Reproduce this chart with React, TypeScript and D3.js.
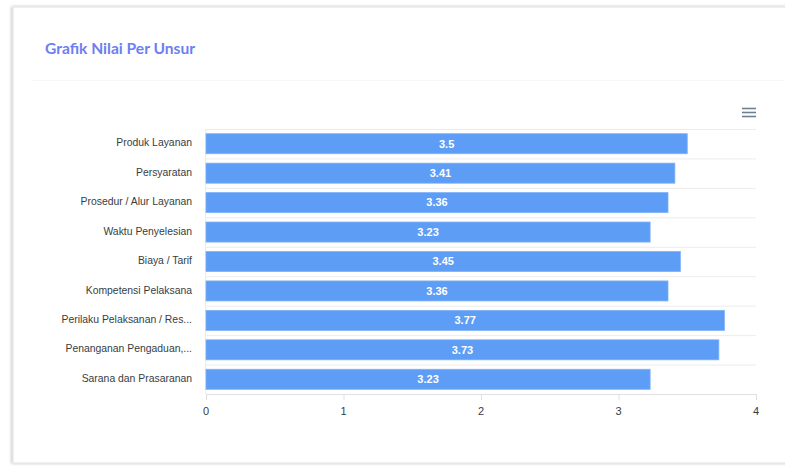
import React from "react";
import * as d3 from "d3";

const categories = [
  "Produk Layanan",
  "Persyaratan",
  "Prosedur / Alur Layanan",
  "Waktu Penyelesian",
  "Biaya / Tarif",
  "Kompetensi Pelaksana",
  "Perilaku Pelaksanan / Res...",
  "Penanganan Pengaduan,...",
  "Sarana dan Prasaranan",
];
const values = [3.5, 3.41, 3.36, 3.23, 3.45, 3.36, 3.77, 3.73, 3.23];
const xTicks = [0, 1, 2, 3, 4];
const title = "Grafik Nilai Per Unsur";

export default function App() {
  const W = 785;
  const H = 466;
  const x = d3.scaleLinear().domain([0, 4]).range([206, 756]);
  const y = d3
    .scaleBand<string>()
    .domain(categories)
    .range([129, 394])
    .paddingInner(0.32)
    .paddingOuter(0.16);
  const step = y.step();
  const font = "'Liberation Sans', Arial, Helvetica, sans-serif";
  return (
    <svg
      width={W}
      height={H}
      style={{ position: "absolute", left: 0, top: 0 }}
    >
      <defs>
        <filter id="sh" x="-5%" y="-5%" width="110%" height="110%">
          <feDropShadow dx="-1" dy="0" stdDeviation="1.5" floodColor="#000" floodOpacity="0.25" />
        </filter>
      </defs>
      <rect x={0} y={0} width={W} height={H} fill="#ffffff" />
      <rect
        x={13}
        y={7}
        width={820}
        height={456}
        fill="#ffffff"
        stroke="#e2e2e2"
        strokeWidth={1}
        filter="url(#sh)"
      />
      <text
        x={45}
        y={53.5}
        fill="#6c7ef2"
        fontFamily="Lato, 'Open Sans', sans-serif"
        fontWeight={700}
        fontSize={15.6}
      >
        {title}
      </text>
      <line x1={32} x2={785} y1={80.5} y2={80.5} stroke="#f8f8f8" strokeWidth={1} />

      {/* hamburger menu */}
      {[108.5, 112.5, 116.5].map((yy) => (
        <line key={yy} x1={742} x2={756} y1={yy} y2={yy} stroke="#6e8192" strokeWidth={1.6} />
      ))}

      {/* grid */}
      {categories.map((c, i) => (
        <line
          key={"g" + i}
          x1={206}
          x2={756}
          y1={129 + i * step + 0.5}
          y2={129 + i * step + 0.5}
          stroke="#ececec"
          strokeWidth={1}
        />
      ))}
      <line x1={205.5} x2={205.5} y1={129} y2={394} stroke="#ececec" strokeWidth={1} />

      {/* bars */}
      {categories.map((c, i) => (
        <rect
          key={"b" + i}
          x={x(0)}
          y={y(c)}
          width={x(values[i]) - x(0)}
          height={y.bandwidth()}
          fill="#5d9df6"
          stroke="#7db1f8"
          strokeWidth={0.8}
        />
      ))}
      {categories.map((c, i) => (
        <text
          key={"v" + i}
          x={(x(0) + x(values[i])) / 2}
          y={(y(c) as number) + y.bandwidth() / 2}
          dy="0.35em"
          textAnchor="middle"
          fill="#ffffff"
          fontFamily={font}
          fontWeight={700}
          fontSize={11}
        >
          {values[i]}
        </text>
      ))}

      {/* category labels */}
      {categories.map((c) => (
        <text
          key={"c" + c}
          x={192}
          y={(y(c) as number) + y.bandwidth() / 2 - 1}
          dy="0.35em"
          textAnchor="end"
          fill="#373d3f"
          fontFamily={font}
          fontSize={10.4}
        >
          {c}
        </text>
      ))}

      {/* x axis */}
      <line x1={206} x2={756} y1={394.5} y2={394.5} stroke="#e0e0e0" strokeWidth={1} />
      {xTicks.map((t) => (
        <g key={"t" + t}>
          <line x1={x(t) + 0.5} x2={x(t) + 0.5} y1={394} y2={400} stroke="#e0e0e0" strokeWidth={1} />
          <text
            x={x(t)}
            y={411.5}
            dy="0.35em"
            textAnchor="middle"
            fill="#373d3f"
            fontFamily={font}
            fontSize={11}
          >
            {t}
          </text>
        </g>
      ))}
    </svg>
  );
}
